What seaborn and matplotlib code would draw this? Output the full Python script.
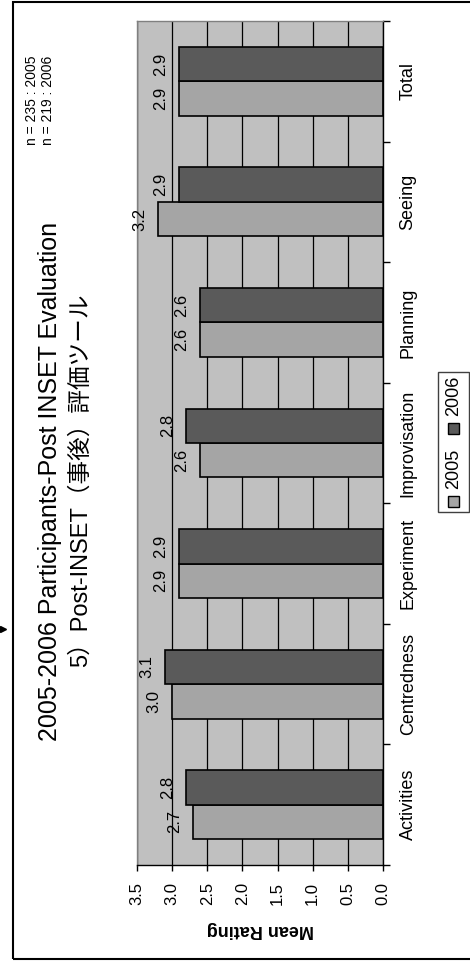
import numpy as np
import pandas as pd
import matplotlib
matplotlib.use("Agg")
import matplotlib.pyplot as plt
from matplotlib.patches import Rectangle
from matplotlib.lines import Line2D
import seaborn as sns

plt.rcParams['font.family'] = ['Liberation Sans', 'Noto Sans CJK JP', 'DejaVu Sans']

# ---- data ----
categories = ["Activities", "Centredness", "Experiment", "Improvisation",
              "Planning", "Seeing", "Total"]
years = ["2005", "2006"]
ratings_2005 = [2.7, 3.0, 2.9, 2.6, 2.6, 3.2, 2.9]
ratings_2006 = [2.8, 3.1, 2.9, 2.8, 2.6, 2.9, 2.9]
value_ticks = [0.0, 0.5, 1.0, 1.5, 2.0, 2.5, 3.0, 3.5]
sample_notes = ["n = 235 : 2005", "n = 219 : 2006"]
title_lines = ["2005-2006 Participants-Post INSET Evaluation",
               "5）Post-INSET（事後）評価ツール"]
value_label = "Mean Rating"

colors = {"2005": "#a5a5a5", "2006": "#5a5a5a"}
plot_bg = "#c0c0c0"

df = pd.DataFrame({
    "category": categories * 2,
    "rating": ratings_2005 + ratings_2006,
    "year": [years[0]] * len(categories) + [years[1]] * len(categories),
})

W, H = 470, 964
fig = plt.figure(figsize=(W / 100, H / 100), dpi=100)
fig.patch.set_facecolor("white")

# page frame (open on the right side)
fig.add_artist(Rectangle((13 / W, 5 / H), 1.0, 957 / H, transform=fig.transFigure,
                         fill=False, edgecolor="black", linewidth=1.5))
fig.add_artist(Line2D([3 / W], [1 - 629 / H], transform=fig.transFigure,
                      marker=">", markersize=4, color="black", linestyle="none"))

ax = fig.add_axes([137 / W, 99 / H, 246 / W, 844 / H])
ax.set_facecolor(plot_bg)

sns.barplot(data=df, y="category", x="rating", hue="year", orient="h",
            order=categories, hue_order=years, palette=colors, saturation=1,
            width=0.57, edgecolor="black", linewidth=1.2, legend=False, ax=ax)

# value axis runs right-to-left, categories bottom-to-top
ax.set_xlim(3.5, 0)
ax.set_ylim(-0.5, len(categories) - 0.5)

ax.set_xticks(value_ticks, labels=[f"{v:.1f}" for v in value_ticks])
ax.tick_params(axis="x", labelrotation=90, labelsize=12, length=4,
               width=1, direction="out", pad=8, color="black")
ax.grid(axis="x", color="black", linewidth=0.9)
ax.grid(axis="y", visible=False)
ax.set_axisbelow(True)

ax.yaxis.tick_right()
ax.set_yticks(np.arange(-0.5, len(categories)), labels=[])
ax.set_yticks(np.arange(len(categories)), labels=categories, minor=True)
ax.tick_params(axis="y", which="major", length=5, width=1, direction="out")
ax.tick_params(axis="y", which="minor", length=0, pad=12, labelsize=13)
for lbl in ax.get_yticklabels(minor=True):
    lbl.set_rotation(90)
    lbl.set_va("center")
    lbl.set_ha("left")

ax.set_ylabel("")
ax.set_xlabel(value_label, rotation=180, fontsize=13, fontweight="bold",
              labelpad=12)

for side in ["right", "bottom"]:
    ax.spines[side].set_color("black")
    ax.spines[side].set_linewidth(1.0)
for side in ["left", "top"]:
    ax.spines[side].set_color("#808080")
    ax.spines[side].set_linewidth(1.0)

# value labels beyond each bar end
for container, vals in zip(ax.containers, [ratings_2005, ratings_2006]):
    for bar, v in zip(container, vals):
        yc = bar.get_y() + bar.get_height() / 2
        ax.annotate(f"{v:.1f}", xy=(v, yc), xytext=(-13.5, 0),
                    textcoords="offset points", rotation=90,
                    ha="center", va="center", fontsize=12)

# titles
fig.text(50 / W, 1 - 481 / H, title_lines[0], rotation=90, ha="center",
         va="center", fontsize=18)
fig.text(81 / W, 1 - 480 / H, title_lines[1], rotation=90, ha="center",
         va="center", fontsize=17)

# sample sizes
fig.text(32 / W, 1 - 100 / H, sample_notes[0], rotation=90, ha="center",
         va="center", fontsize=10)
fig.text(48 / W, 1 - 100 / H, sample_notes[1], rotation=90, ha="center",
         va="center", fontsize=10)

# legend, drawn sideways
fig.add_artist(Rectangle((438 / W, 1 - 512 / H), 31 / W, 140 / H,
                         transform=fig.transFigure, facecolor="white",
                         edgecolor="#404040", linewidth=1.0))
legend_rows = [("2005", 501, 469), ("2006", 428, 396)]
for yr, sq_y, txt_y in legend_rows:
    fig.add_artist(Rectangle((448 / W, 1 - (sq_y + 6) / H), 11 / W, 11 / H,
                             transform=fig.transFigure, facecolor=colors[yr],
                             edgecolor="black", linewidth=1.0))
    fig.text(454 / W, 1 - txt_y / H, yr, rotation=90, ha="center",
             va="center", fontsize=13)

fig.savefig("out.png", dpi=100)
